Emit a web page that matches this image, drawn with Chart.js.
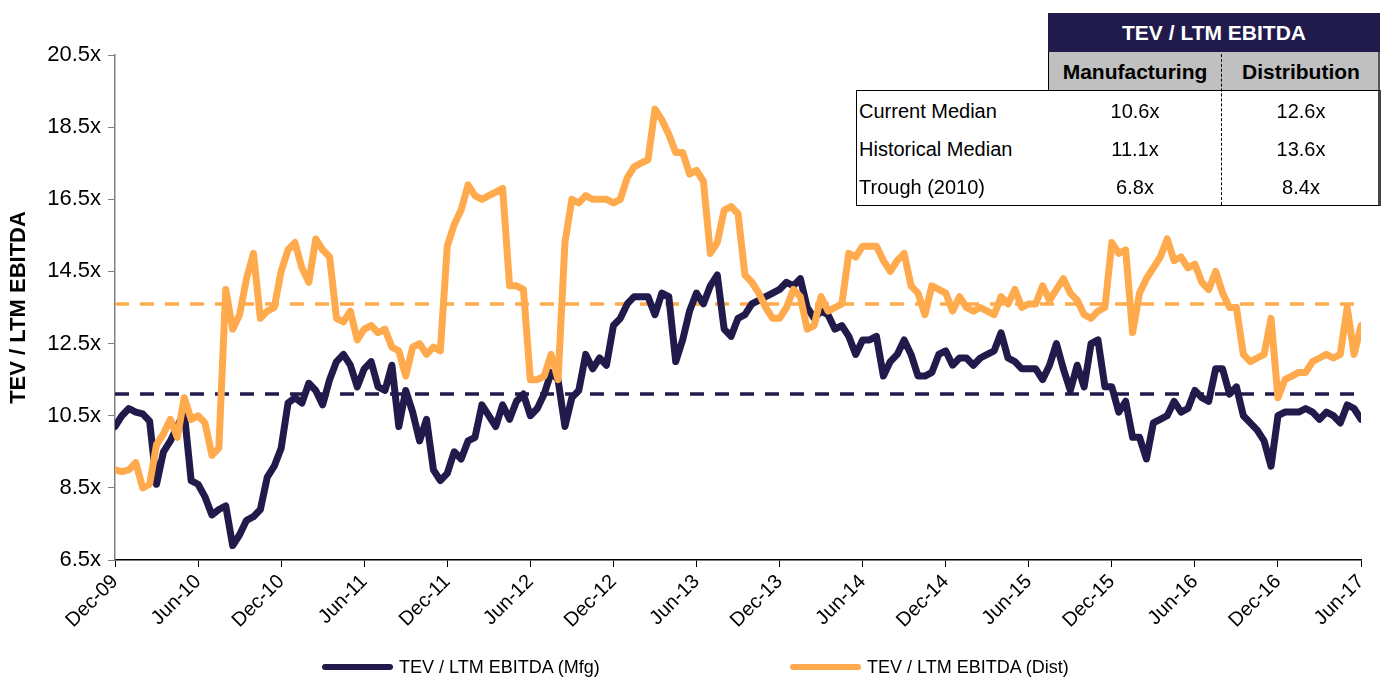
<!DOCTYPE html>
<html>
<head>
<meta charset="utf-8">
<script src="https://cdn.jsdelivr.net/npm/chart.js@4.4.1/dist/chart.umd.min.js"></script>
<style>
  html, body { margin: 0; padding: 0; background: #fff; }
  #wrap { position: relative; width: 1381px; height: 677px; font-family: "Liberation Sans", Arial, sans-serif; color: #000; }
  #chart { position: absolute; left: 0; top: 0; }
  .box { position: absolute; box-sizing: border-box; }
  .cell { position: absolute; display: flex; align-items: center; white-space: nowrap; }
  .lg-line { position: absolute; height: 6px; border-radius: 3px; }
  .lg-text { position: absolute; font-size: 18px; line-height: 20px; white-space: nowrap; }
</style>
</head>
<body>
<div id="wrap">
  <canvas id="chart" width="1381" height="677"></canvas>
  <div id="table"></div>
  <div id="legend"></div>
</div>
<script>
const NAVY = '#201B4B';
const ORANGE = '#FFAA4C';

// x axis: one point every half month from Dec-09 to Jun-17
const tickLabels = ['Dec-09','Jun-10','Dec-10','Jun-11','Dec-11','Jun-12','Dec-12','Jun-13',
  'Dec-13','Jun-14','Dec-14','Jun-15','Dec-15','Jun-16','Dec-16','Jun-17'];

// TEV / LTM EBITDA, manufacturing
const mfg = [
  10.2, 10.5, 10.7, 10.6, 10.55, 10.35, 8.6, 9.5, 9.8, 10.2, 10.6, 8.7,
  8.6, 8.25, 7.75, 7.9, 8.0, 6.9, 7.2, 7.6, 7.7, 7.9, 8.8, 9.1,
  9.6, 10.85, 11.0, 10.85, 11.4, 11.2, 10.8, 11.5, 12.0, 12.2, 11.9, 11.3,
  11.8, 12.0, 11.3, 11.2, 11.9, 10.2, 11.2, 10.6, 9.8, 10.4, 9.0, 8.7,
  8.9, 9.5, 9.3, 9.8, 9.9, 10.8, 10.5, 10.2, 10.8, 10.4, 10.9, 11.1,
  10.5, 10.7, 11.1, 11.7, 11.5, 10.2, 11.0, 11.2, 12.2, 11.8, 12.1, 11.9,
  13.0, 13.2, 13.6, 13.8, 13.8, 13.8, 13.3, 13.9, 13.8, 12.0, 12.6, 13.4,
  13.9, 13.6, 14.1, 14.4, 12.9, 12.7, 13.2, 13.3, 13.6, 13.7, 13.8, 13.9,
  14.0, 14.2, 14.1, 14.3, 13.5, 13.2, 13.4, 13.3, 12.9, 13.0, 12.7, 12.2,
  12.6, 12.6, 12.7, 11.6, 12.0, 12.2, 12.6, 12.2, 11.6, 11.6, 11.7, 12.2,
  12.3, 11.9, 12.1, 12.1, 11.9, 12.1, 12.2, 12.3, 12.8, 12.1, 12.0, 11.8,
  11.8, 11.8, 11.5, 11.9, 12.5, 11.8, 11.2, 11.9, 11.3, 12.5, 12.6, 11.3,
  11.3, 10.6, 10.9, 9.9, 9.9, 9.3, 10.3, 10.4, 10.5, 10.9, 10.6, 10.7,
  11.2, 11.0, 10.9, 11.8, 11.8, 11.1, 11.3, 10.5, 10.3, 10.1, 9.8, 9.1,
  10.5, 10.6, 10.6, 10.6, 10.7, 10.6, 10.4, 10.6, 10.5, 10.3, 10.8, 10.7,
  10.4
];

// TEV / LTM EBITDA, distribution
const dist = [
  9.0, 8.95, 9.0, 9.2, 8.5, 8.6, 9.7, 10.0, 10.4, 9.9, 11.0, 10.4,
  10.5, 10.3, 9.4, 9.6, 14.0, 12.9, 13.3, 14.3, 15.0, 13.2, 13.4, 13.5,
  14.5, 15.1, 15.3, 14.6, 14.2, 15.4, 15.1, 14.9, 13.2, 13.1, 13.4, 12.6,
  12.9, 13.0, 12.8, 12.9, 12.4, 12.3, 11.6, 12.4, 12.5, 12.2, 12.4, 12.3,
  15.2, 15.8, 16.2, 16.9, 16.6, 16.5, 16.6, 16.7, 16.8, 14.1, 14.1, 14.0,
  11.5, 11.5, 11.6, 12.2, 11.5, 15.3, 16.5, 16.4, 16.6, 16.5, 16.5, 16.5,
  16.4, 16.5, 17.1, 17.4, 17.5, 17.6, 19.0, 18.7, 18.3, 17.8, 17.8, 17.2,
  17.3, 17.0, 15.0, 15.3, 16.2, 16.3, 16.1, 14.4, 14.2, 13.9, 13.5, 13.2,
  13.2, 13.5, 14.0, 13.8, 12.9, 13.0, 13.8, 13.4, 13.5, 13.6, 15.0, 14.9,
  15.2, 15.2, 15.2, 14.8, 14.5, 14.8, 15.0, 14.1, 13.9, 13.3, 14.1, 14.0,
  13.9, 13.4, 13.8, 13.5, 13.4, 13.5, 13.4, 13.3, 13.8, 13.6, 14.0, 13.5,
  13.6, 13.6, 14.1, 13.7, 14.0, 14.3, 13.9, 13.7, 13.3, 13.2, 13.4, 13.5,
  15.3, 15.0, 15.1, 12.8, 13.9, 14.3, 14.6, 14.9, 15.4, 14.8, 14.9, 14.6,
  14.7, 14.2, 14.0, 14.5, 13.9, 13.5, 13.5, 12.2, 12.0, 12.1, 12.2, 13.2,
  11.0, 11.5, 11.6, 11.7, 11.7, 12.0, 12.1, 12.2, 12.1, 12.2, 13.5, 12.2,
  13.0
];

// summary table
const statRows = ['Current Median', 'Historical Median', 'Trough (2010)'];
const mfgStats = [10.6, 11.1, 6.8];
const distStats = [12.6, 13.6, 8.4];

const FONT = '"Liberation Sans", Arial, sans-serif';
const xMax = (tickLabels.length - 1) * 6;

const toPts = arr => arr.map((v, i) => ({ x: i * 0.5, y: v }));
const flat = v => [{ x: 0, y: v }, { x: xMax, y: v }];

const ctx = document.getElementById('chart').getContext('2d');
new Chart(ctx, {
  type: 'line',
  data: {
    datasets: [
      { label: 'TEV / LTM EBITDA (Dist)', data: toPts(dist), borderColor: ORANGE, borderWidth: 7, order: 1 },
      { label: 'TEV / LTM EBITDA (Mfg)', data: toPts(mfg), borderColor: NAVY, borderWidth: 7, order: 2 },
      { label: 'dist median', data: flat(distStats[1]), borderColor: ORANGE, borderWidth: 3.5, borderDash: [14, 11], borderCapStyle: 'butt', order: 3 },
      { label: 'mfg median', data: flat(mfgStats[1]), borderColor: NAVY, borderWidth: 3.5, borderDash: [14, 11], borderCapStyle: 'butt', order: 4 }
    ]
  },
  options: {
    responsive: false,
    devicePixelRatio: 1,
    animation: false,
    layout: { padding: { left: 0, top: 55, right: 1, bottom: 0 }, autoPadding: false },
    elements: {
      point: { radius: 0 },
      line: { tension: 0, borderJoinStyle: 'round', borderCapStyle: 'round', fill: false }
    },
    plugins: { legend: { display: false }, tooltip: { enabled: false } },
    scales: {
      x: {
        type: 'linear', min: 0, max: xMax,
        afterFit: s => { s.height = 117; },
        border: { color: '#000', width: 1.5 },
        grid: { drawOnChartArea: false, drawTicks: true, tickLength: 7, color: '#000' },
        ticks: {
          stepSize: 6, autoSkip: false, maxRotation: 45, minRotation: 45, padding: 3,
          color: '#000', font: { family: FONT, size: 20 },
          callback: v => tickLabels[Math.round(v / 6)]
        }
      },
      y: {
        min: 6.5, max: 20.5,
        afterFit: s => { s.width = 115; },
        border: { color: '#808080', width: 1.5 },
        grid: { drawOnChartArea: false, drawTicks: true, tickLength: 7, color: '#808080' },
        ticks: {
          stepSize: 2, padding: 7, color: '#000', font: { family: FONT, size: 22 },
          callback: v => v.toFixed(1) + 'x'
        },
        title: {
          display: true, text: 'TEV / LTM EBITDA', color: '#000',
          font: { family: FONT, size: 22, weight: 'bold' }, padding: { top: 6, bottom: 0 }
        }
      }
    }
  }
});

// summary table (HTML text)
const tbl = document.getElementById('table');
function box(l, t, w, h, css) {
  const d = document.createElement('div');
  d.className = 'box';
  d.style.cssText = `left:${l}px;top:${t}px;width:${w}px;height:${h}px;${css}`;
  tbl.appendChild(d);
}
function cell(l, t, w, h, text, css) {
  const d = document.createElement('div');
  d.className = 'cell';
  d.style.cssText = `left:${l}px;top:${t}px;width:${w}px;height:${h}px;${css}`;
  d.textContent = text;
  tbl.appendChild(d);
}
box(1048, 13, 332, 39, `background:${NAVY};`);
cell(1048, 13, 332, 39, 'TEV / LTM EBITDA', 'justify-content:center;color:#fff;font-weight:bold;font-size:21px;');
box(1048, 52, 332, 39, 'background:#C0C0C0;border-left:1.5px solid #000;border-right:2px solid #555;');
cell(1048, 52, 174, 39, 'Manufacturing', 'justify-content:center;font-weight:bold;font-size:21px;');
cell(1222, 52, 158, 39, 'Distribution', 'justify-content:center;font-weight:bold;font-size:21px;');
box(856, 90, 525, 116, 'border:1.5px solid #000;border-right:3px solid #444;background:#fff;');
box(1221, 54, 2, 151, 'border-left:1.5px dashed #000;');
statRows.forEach((r, i) => {
  const t = 92 + i * 38.3;
  cell(859, t, 190, 38, r, 'font-size:20px;');
  cell(1048, t, 174, 38, mfgStats[i].toFixed(1) + 'x', 'justify-content:center;font-size:20px;');
  cell(1222, t, 158, 38, distStats[i].toFixed(1) + 'x', 'justify-content:center;font-size:20px;');
});

// legend (HTML)
const lg = document.getElementById('legend');
[
  { color: NAVY, text: 'TEV / LTM EBITDA (Mfg)', x: 322 },
  { color: ORANGE, text: 'TEV / LTM EBITDA (Dist)', x: 790 }
].forEach(it => {
  const l = document.createElement('div');
  l.className = 'lg-line';
  l.style.cssText = `left:${it.x}px;top:664px;width:71px;background:${it.color};`;
  lg.appendChild(l);
  const t = document.createElement('div');
  t.className = 'lg-text';
  t.style.cssText = `left:${it.x + 77}px;top:657px;`;
  t.textContent = it.text;
  lg.appendChild(t);
});
</script>
</body>
</html>
